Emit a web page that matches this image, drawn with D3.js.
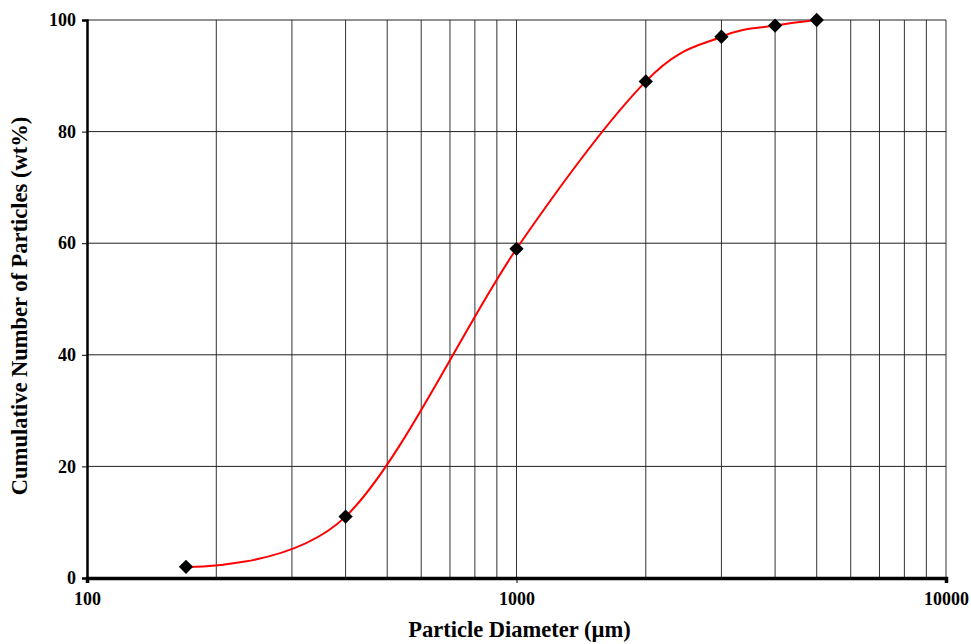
<!DOCTYPE html>
<html>
<head>
<meta charset="utf-8">
<script src="https://cdn.jsdelivr.net/npm/d3@7"></script>
<style>
  body { margin: 0; background: #fff; }
  svg { display: block; }
  text { font-family: "Liberation Serif", "Times New Roman", serif; font-weight: bold; }
</style>
</head>
<body>
<div id="chart"></div>
<script>
// particle size distribution data
const diameters = [170, 400, 1000, 2000, 3000, 4000, 5000];
const cumulative = [2, 11, 59, 89, 97, 99, 100];
const xTickLabels = [100, 1000, 10000];
const yTickLabels = [0, 20, 40, 60, 80, 100];

const width = 971, height = 644;
const margin = { top: 20, right: 25, bottom: 66, left: 87 };

const svg = d3.select('#chart')
    .append('svg')
    .attr('width', width)
    .attr('height', height);

const x = d3.scaleLog()
    .domain([100, 10000])
    .range([margin.left, width - margin.right]);

const y = d3.scaleLinear()
    .domain([0, 100])
    .range([height - margin.bottom, margin.top]);

// gridlines: every 1-9 multiple of each decade
const gridX = [];
for (let d = 100; d < 10000; d *= 10) {
  for (let m = 1; m < 10; m++) gridX.push(d * m);
}
gridX.push(10000);

svg.append('g')
    .selectAll('line')
    .data(gridX.filter(v => v > 100))
    .join('line')
    .attr('x1', d => x(d)).attr('x2', d => x(d))
    .attr('y1', y(0)).attr('y2', y(100))
    .attr('stroke', '#333')
    .attr('stroke-width', 1);

svg.append('g')
    .selectAll('line')
    .data(yTickLabels.filter(v => v > 0))
    .join('line')
    .attr('x1', x(100)).attr('x2', x(10000))
    .attr('y1', d => y(d)).attr('y2', d => y(d))
    .attr('stroke', '#222')
    .attr('stroke-width', 1);

// y axis
const yAxis = svg.append('g')
    .attr('transform', `translate(${x(100)},0)`)
    .call(d3.axisLeft(y).tickValues(yTickLabels).tickSize(5).tickPadding(6));
yAxis.select('.domain').attr('stroke', '#000').attr('stroke-width', 2.5);
yAxis.selectAll('.tick line').attr('stroke', '#000');
yAxis.selectAll('text').attr('font-size', 18).attr('fill', '#000')
    .attr('font-family', '"Liberation Serif", serif').attr('font-weight', 'bold');

// x axis
const xAxis = svg.append('g')
    .attr('transform', `translate(0,${y(0)})`)
    .call(d3.axisBottom(x).tickValues(xTickLabels).tickFormat(d3.format('d')).tickSize(5).tickPadding(9));
xAxis.select('.domain').attr('stroke', '#000').attr('stroke-width', 3.5);
xAxis.selectAll('.tick line').attr('stroke', '#000');
xAxis.selectAll('text').attr('font-size', 18).attr('fill', '#000')
    .attr('font-family', '"Liberation Serif", serif').attr('font-weight', 'bold');

// fitted curve
const pts = diameters.map((d, i) => [x(d), y(cumulative[i])]);
svg.append('path')
    .datum(pts)
    .attr('fill', 'none')
    .attr('stroke', '#ff0000')
    .attr('stroke-width', 2)
    .attr('d', d3.line().curve(d3.curveCardinal.tension(0)));

// markers
svg.append('g')
    .selectAll('path')
    .data(pts)
    .join('path')
    .attr('transform', d => `translate(${d[0]},${d[1]})`)
    .attr('d', d3.symbol(d3.symbolDiamond2, 130))
    .attr('fill', '#000');

// axis titles
svg.append('text')
    .attr('x', (x(100) + x(10000)) / 2 + 3)
    .attr('y', 637)
    .attr('text-anchor', 'middle')
    .attr('font-size', 22.5)
    .text('Particle Diameter (µm)');

svg.append('text')
    .attr('transform', `translate(27,${(y(0) + y(100)) / 2 + 7}) rotate(-90)`)
    .attr('text-anchor', 'middle')
    .attr('font-size', 22.5)
    .text('Cumulative Number of Particles (wt%)');
</script>
</body>
</html>
